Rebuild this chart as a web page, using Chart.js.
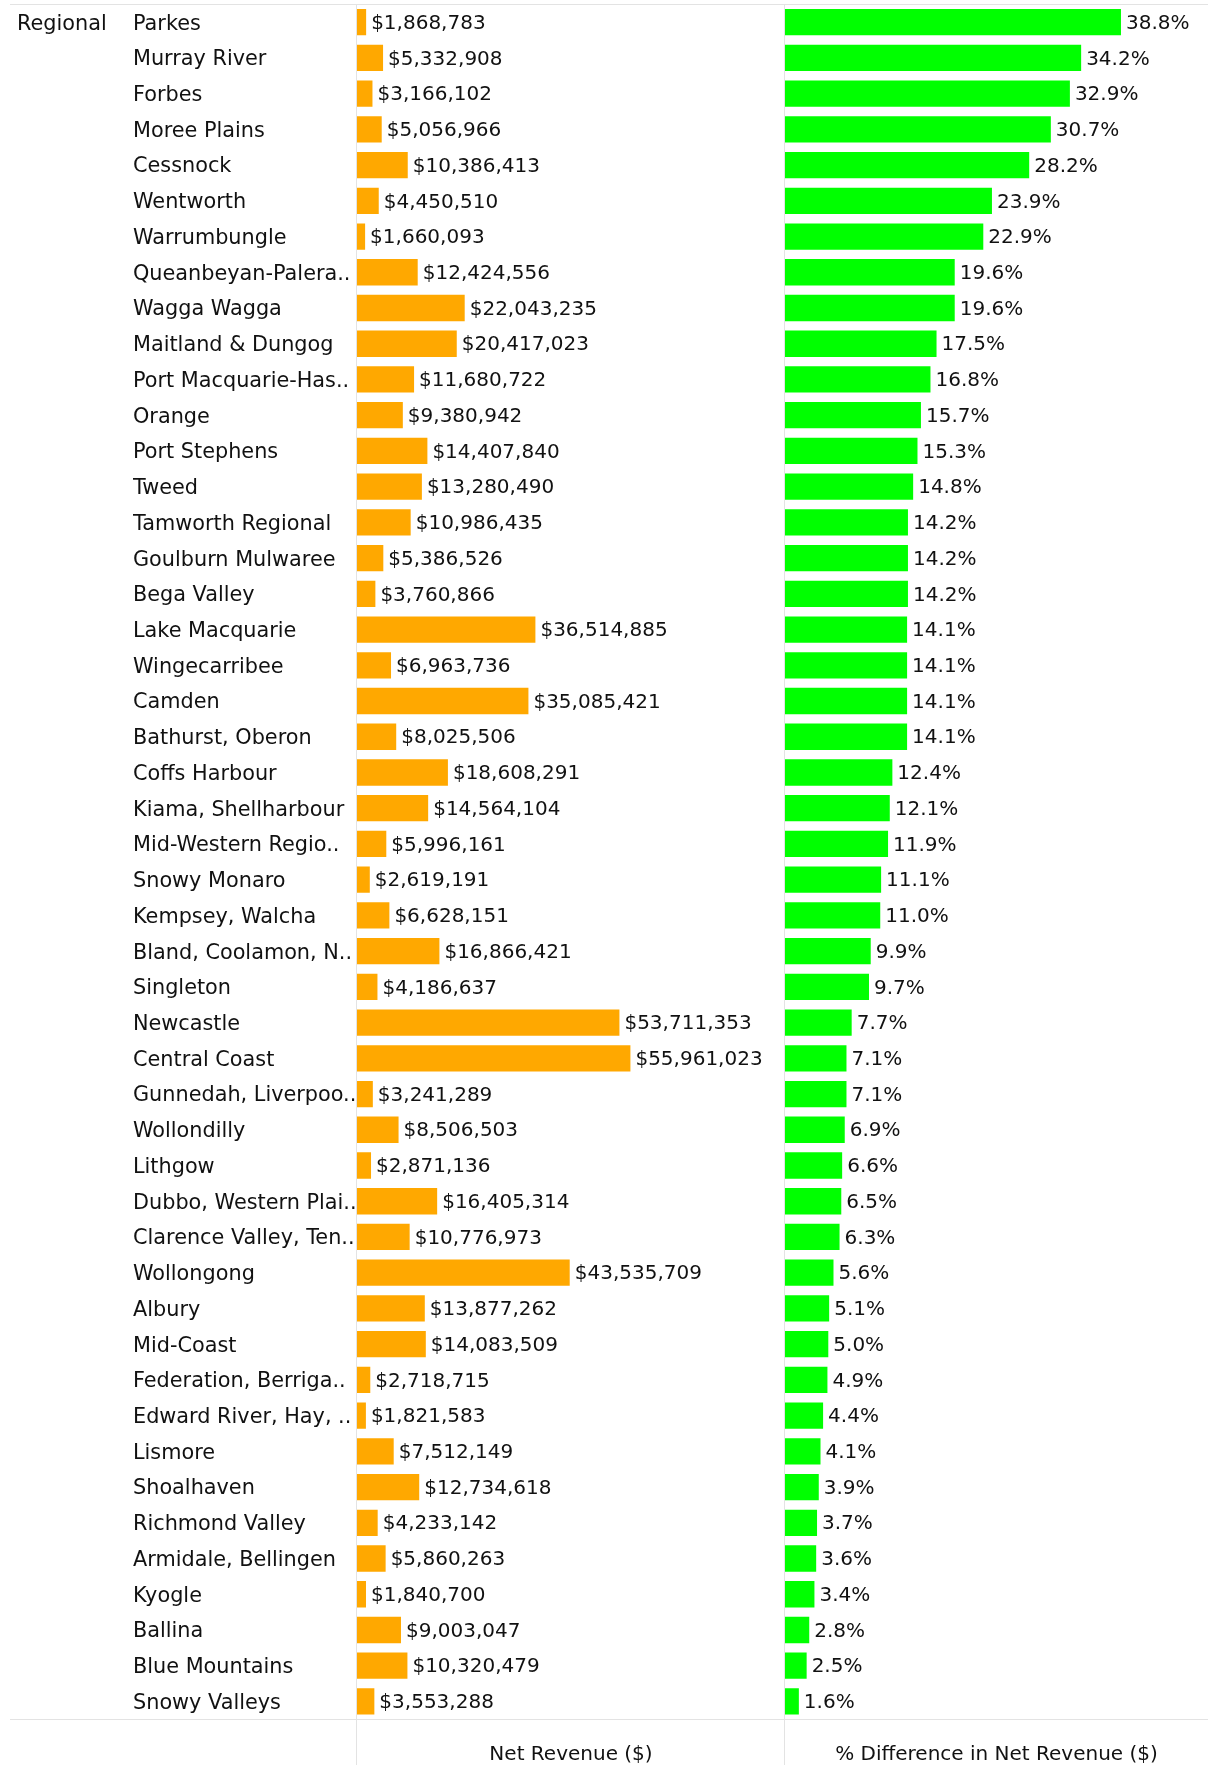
<!DOCTYPE html>
<html>
<head>
<meta charset="utf-8">
<script src="https://cdn.jsdelivr.net/npm/chart.js@4/dist/chart.umd.min.js"></script>
<style>
  body { margin: 0; background: #fff; }
  #page { position: relative; width: 1208px; height: 1765px; overflow: hidden; }
  .line { position: absolute; background: #e3e3e3; }
  .pane { position: absolute; top: 0; }
</style>
</head>
<body>
<div id="page">
  <div class="line" style="left:10px; top:4px; width:1198px; height:1px;"></div>
  <div class="line" style="left:10px; top:1719px; width:1198px; height:1px;"></div>
  <div class="line" style="left:356px; top:4px; width:1px; height:1761px;"></div>
  <div class="line" style="left:784px; top:4px; width:1px; height:1761px;"></div>
  <div class="pane" style="left:0; width:785px; height:1765px;"><canvas id="revenueChart" width="785" height="1765"></canvas></div>
  <div class="pane" style="left:785px; width:423px; height:1765px;"><canvas id="diffChart" width="423" height="1765"></canvas></div>
</div>
<script>
const groupLabel = 'Regional';

const councils = [
  'Parkes', 'Murray River', 'Forbes', 'Moree Plains', 'Cessnock', 'Wentworth',
  'Warrumbungle', 'Queanbeyan-Palera..', 'Wagga Wagga', 'Maitland & Dungog',
  'Port Macquarie-Has..', 'Orange', 'Port Stephens', 'Tweed', 'Tamworth Regional',
  'Goulburn Mulwaree', 'Bega Valley', 'Lake Macquarie', 'Wingecarribee', 'Camden',
  'Bathurst, Oberon', 'Coffs Harbour', 'Kiama, Shellharbour', 'Mid-Western Regio..',
  'Snowy Monaro', 'Kempsey, Walcha', 'Bland, Coolamon, N..', 'Singleton', 'Newcastle',
  'Central Coast', 'Gunnedah, Liverpoo..', 'Wollondilly', 'Lithgow',
  'Dubbo, Western Plai..', 'Clarence Valley, Ten..', 'Wollongong', 'Albury',
  'Mid-Coast', 'Federation, Berriga..', 'Edward River, Hay, ..', 'Lismore',
  'Shoalhaven', 'Richmond Valley', 'Armidale, Bellingen', 'Kyogle', 'Ballina',
  'Blue Mountains', 'Snowy Valleys'
];

const netRevenue = [
  1868783, 5332908, 3166102, 5056966, 10386413, 4450510,
  1660093, 12424556, 22043235, 20417023,
  11680722, 9380942, 14407840, 13280490, 10986435,
  5386526, 3760866, 36514885, 6963736, 35085421,
  8025506, 18608291, 14564104, 5996161,
  2619191, 6628151, 16866421, 4186637, 53711353,
  55961023, 3241289, 8506503, 2871136,
  16405314, 10776973, 43535709, 13877262,
  14083509, 2718715, 1821583, 7512149,
  12734618, 4233142, 5860263, 1840700, 9003047,
  10320479, 3553288
];

const pctDiff = [
  38.8, 34.2, 32.9, 30.7, 28.2, 23.9,
  22.9, 19.6, 19.6, 17.5,
  16.8, 15.7, 15.3, 14.8, 14.2,
  14.2, 14.2, 14.1, 14.1, 14.1,
  14.1, 12.4, 12.1, 11.9,
  11.1, 11.0, 9.9, 9.7, 7.7,
  7.1, 7.1, 6.9, 6.6,
  6.5, 6.3, 5.6, 5.1,
  5.0, 4.9, 4.4, 4.1,
  3.9, 3.7, 3.6, 3.4, 2.8,
  2.5, 1.6
];

const FONT = { family: 'DejaVu Sans', size: 20 };
const NAME_FONT = { family: 'DejaVu Sans', size: 20.8 };
const TEXT = '#111111';

// value labels at the end of each bar
function barLabels(fmt) {
  return {
    id: 'barLabels',
    afterDatasetsDraw(chart) {
      const ctx = chart.ctx;
      const meta = chart.getDatasetMeta(0);
      const values = chart.data.datasets[0].data;
      ctx.save();
      ctx.font = FONT.size + 'px ' + FONT.family;
      ctx.fillStyle = TEXT;
      ctx.textAlign = 'left';
      ctx.textBaseline = 'middle';
      meta.data.forEach((bar, i) => {
        ctx.fillText(fmt(values[i]), bar.x + 5, bar.y + 1.5);
      });
      ctx.restore();
    }
  };
}

const groupHeader = {
  id: 'groupHeader',
  afterDraw(chart) {
    const ctx = chart.ctx;
    const y = chart.scales.y.getPixelForValue(0);
    ctx.save();
    ctx.font = NAME_FONT.size + 'px ' + NAME_FONT.family;
    ctx.fillStyle = TEXT;
    ctx.textBaseline = 'middle';
    ctx.fillText(groupLabel, 17, y + 2.5);
    ctx.restore();
  }
};

const baseX = (title, max) => ({
  min: 0,
  max: max,
  grid: { display: false },
  border: { display: false },
  ticks: { display: false },
  title: {
    display: true, text: title, color: TEXT,
    font: { family: FONT.family, size: FONT.size, lineHeight: 1 },
    padding: { top: 0, bottom: 0 }
  },
  afterFit(scale) { scale.height = 45.7; }
});

new Chart(document.getElementById('revenueChart').getContext('2d'), {
  type: 'bar',
  data: {
    labels: councils,
    datasets: [{
      data: netRevenue,
      backgroundColor: '#ffa800',
      barPercentage: 0.736,
      categoryPercentage: 1
    }]
  },
  options: {
    indexAxis: 'y',
    responsive: false,
    animation: false,
    layout: { padding: { left: 133, top: 4.3, right: 0, bottom: 0 } },
    plugins: { legend: { display: false }, tooltip: { enabled: false } },
    scales: {
      x: baseX('Net Revenue ($)', 87.6e6),
      y: {
        grid: { display: false },
        border: { display: false },
        ticks: { color: TEXT, font: NAME_FONT, crossAlign: 'far', padding: 0, autoSkip: false, labelOffset: 2 },
        afterFit(scale) {
          scale.width = 224;
          scale.paddingTop = 0;
          scale.paddingBottom = 0;
        }
      }
    }
  },
  plugins: [barLabels(v => '$' + v.toLocaleString('en-US')), groupHeader]
});

new Chart(document.getElementById('diffChart').getContext('2d'), {
  type: 'bar',
  data: {
    labels: councils,
    datasets: [{
      data: pctDiff,
      backgroundColor: '#00ff00',
      barPercentage: 0.736,
      categoryPercentage: 1
    }]
  },
  options: {
    indexAxis: 'y',
    responsive: false,
    animation: false,
    layout: { padding: { left: 0, top: 4.3, right: 0, bottom: 0 } },
    plugins: { legend: { display: false }, tooltip: { enabled: false } },
    scales: {
      x: baseX('% Difference in Net Revenue ($)', 48.85),
      y: { display: false }
    }
  },
  plugins: [barLabels(v => v.toFixed(1) + '%')]
});
</script>
</body>
</html>
